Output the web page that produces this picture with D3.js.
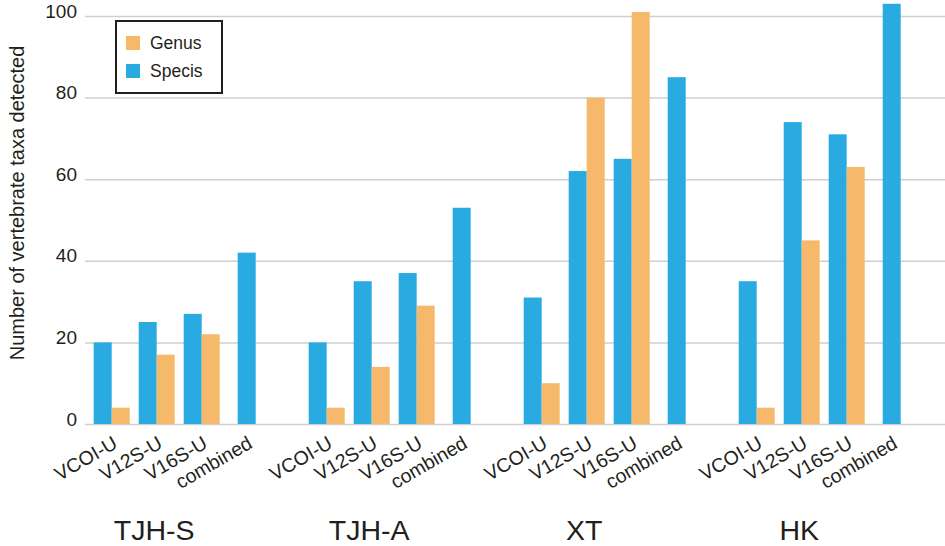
<!DOCTYPE html>
<html>
<head>
<meta charset="utf-8">
<script src="https://cdn.jsdelivr.net/npm/d3@7"></script>
<style>
  body { margin: 0; background: #fff; }
  text { font-family: "Liberation Sans", Arial, Helvetica, sans-serif; fill: #231f20; }
</style>
</head>
<body>
<script>
// sites and markers
var groups = ["TJH-S", "TJH-A", "XT", "HK"];
var markers = ["VCOI-U", "V12S-U", "V16S-U", "combined"];
var series = ["Specis", "Genus"];
var legendOrder = ["Genus", "Specis"];

// number of taxa per site, one entry per marker
var speciesCounts = [
    [20, 25, 27, 42],
    [20, 35, 37, 53],
    [31, 62, 65, 85],
    [35, 74, 71, 103]
];
var genusCounts = [
    [4, 17, 22],
    [4, 14, 29],
    [10, 80, 101],
    [4, 45, 63]
];
var yTicks = [0, 20, 40, 60, 80, 100];

var colors = {"Specis": "#29abe2", "Genus": "#f6b96c"};

const width = 945, height = 546;

var svg = d3.select("body")
    .append("svg")
    .attr("width", width)
    .attr("height", height);

var y = d3.scaleLinear().domain([0, 100]).range([424, 16]);

var x0 = d3.scaleBand().domain(groups).range([89.2, 914.2])
    .paddingInner(35/215).paddingOuter(0);
var x1 = d3.scaleBand().domain(markers).range([0, x0.bandwidth()])
    .paddingInner(0.2).paddingOuter(0.1);
var x2 = d3.scaleBand().domain(series).range([0, x1.bandwidth()]);

// gridlines + y tick labels
var yAxis = svg.append("g")
    .attr("transform", "translate(85,0)")
    .call(d3.axisLeft(y).tickValues(yTicks).tickSize(-860).tickPadding(8));
yAxis.select(".domain").remove();
yAxis.selectAll(".tick line")
    .attr("stroke", "#cfcfcf")
    .attr("stroke-width", 1.5);
yAxis.selectAll(".tick text")
    .attr("y", -5)
    .style("font-size", "19px")
    .style("fill", "#231f20");

// flatten into bar records
var bars = [];
groups.forEach(function(g, i){
    markers.forEach(function(m, j){
        var gx = x0(g) + x1(m);
        if(m == "combined"){
            bars.push({s: "Specis", v: speciesCounts[i][j], x: gx + (x1.bandwidth() - x2.bandwidth())/2});
        } else {
            bars.push({s: "Specis", v: speciesCounts[i][j], x: gx + x2("Specis")});
            bars.push({s: "Genus", v: genusCounts[i][j], x: gx + x2("Genus")});
        }
    });
});

svg.append("g").selectAll("rect")
    .data(bars)
    .enter()
    .append("rect")
    .attr("x", d => d.x)
    .attr("y", d => y(d.v))
    .attr("width", x2.bandwidth())
    .attr("height", d => y(0) - y(d.v))
    .attr("fill", d => colors[d.s]);

// rotated marker labels
var labelData = [];
groups.forEach(function(g){
    markers.forEach(function(m){
        labelData.push({g: g, m: m});
    });
});
svg.append("g").selectAll("text")
    .data(labelData)
    .enter()
    .append("text")
    .attr("text-anchor", "end")
    .attr("transform", d => "translate(" + (x0(d.g) + x1(d.m) + x1.bandwidth()/2 + 7) + ",447) rotate(-30)")
    .style("font-size", "19.5px")
    .text(d => d.m);

// site labels
svg.append("g").selectAll("text")
    .data(groups)
    .enter()
    .append("text")
    .attr("x", d => x0(d) + 65)
    .attr("y", 540)
    .attr("text-anchor", "middle")
    .style("font-size", "28.5px")
    .text(d => d);

// y axis title
svg.append("text")
    .attr("transform", "translate(24,203) rotate(-90)")
    .attr("text-anchor", "middle")
    .style("font-size", "20px")
    .text("Number of vertebrate taxa detected");

// legend
var legend = svg.append("g").attr("transform", "translate(116,21)");
legend.append("rect")
    .attr("width", 106)
    .attr("height", 72)
    .attr("fill", "#fff")
    .attr("stroke", "#231f20")
    .attr("stroke-width", 2);
var item = legend.selectAll(".item")
    .data(legendOrder)
    .enter()
    .append("g")
    .attr("transform", (d, i) => "translate(10," + (15 + 28*i) + ")");
item.append("rect")
    .attr("width", 14)
    .attr("height", 14)
    .attr("fill", d => colors[d]);
item.append("text")
    .attr("x", 24)
    .attr("y", 12.5)
    .style("font-size", "17.5px")
    .text(d => d);
</script>
</body>
</html>
